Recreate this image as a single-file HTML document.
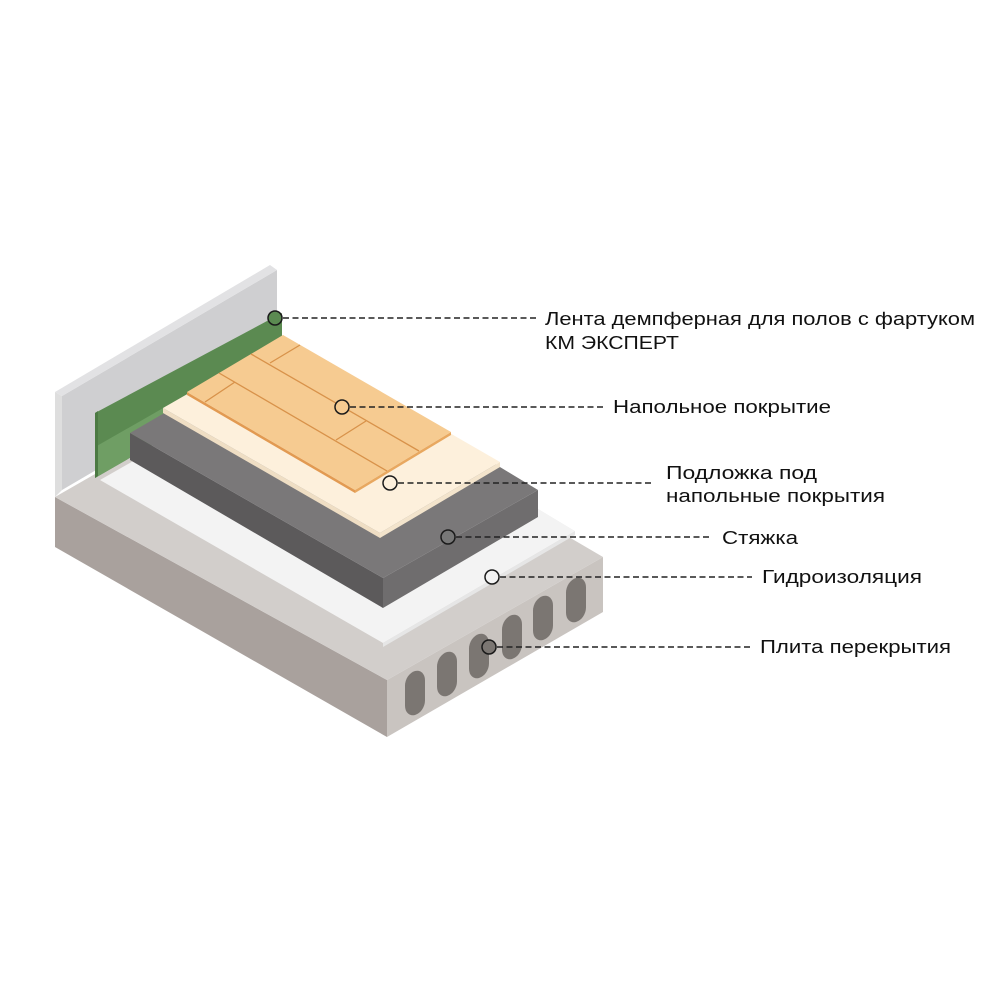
<!DOCTYPE html>
<html><head><meta charset="utf-8"><style>html,body{margin:0;padding:0;background:#fff}svg{display:block}text{font-family:"Liberation Sans",sans-serif;font-size:18px;fill:#111}</style></head>
<body>
<svg width="1000" height="1000" viewBox="0 0 1000 1000" xmlns="http://www.w3.org/2000/svg">
<rect width="1000" height="1000" fill="#fff"/>
<polygon points="55,497 387,680 387,737 55,547" fill="#a9a19d"/>
<polygon points="387,680 603,557 603,612 387,737" fill="#c9c4c0"/>
<polygon points="55,497 280,368 603,557 387,680" fill="#d2cecb"/>
<polygon points="55,392 62,396 62,490 55,497" fill="#dedede"/>
<polygon points="62,396 277,270 277,364 62,490" fill="#cfcfd1"/>
<polygon points="55,392 270,265 277,270 62,396" fill="#e2e2e4"/>
<polygon points="100,480 300,366 575,531 383,643" fill="#f3f3f3"/>
<polygon points="383,643 575,531 575,535 383,647" fill="#e6e6e6"/>
<polygon points="95,413 282,313 282,370 95,478" fill="#5b8a51"/>
<polygon points="95,447 282,340 282,370 95,478" fill="#6f9e64"/>
<polygon points="95,413 98,411 98,476 95,478" fill="#4c7a43"/>
<circle cx="275" cy="318" r="7" fill="#5b8a51" stroke="#1a1a1a" stroke-width="1.5"/>
<polygon points="130,433 383,578 383,608 130,460" fill="#5c5a5b"/>
<polygon points="383,578 538,490 538,517 383,608" fill="#6f6d6e"/>
<polygon points="130,433 290,340 538,490 383,578" fill="#7a7879"/>
<polygon points="163,408 380,533 380,538 163,413" fill="#efdec4"/>
<polygon points="380,533 500,462 500,467 380,538" fill="#f3e4cc"/>
<polygon points="163,408 285,338 500,462 380,533" fill="#fdf0dc"/>
<polygon points="187,392 355,490 355,493 187,395" fill="#e29a52"/>
<polygon points="355,490 451,432 451,435 355,493" fill="#e8a860"/>
<polygon points="187,392 283,335 451,432 355,490" fill="#f6cb91"/>
<g stroke="#d8924a" stroke-width="1.3">
<line x1="219" y1="373" x2="387" y2="471"/>
<line x1="251" y1="354" x2="419" y2="451"/>
<line x1="205" y1="402" x2="235" y2="382"/>
<line x1="270" y1="363" x2="300" y2="345"/>
<line x1="336" y1="440" x2="366" y2="421"/>
</g>
<g fill="#7b7672">
<rect x="-10" y="-22" width="20" height="44" rx="10" ry="12" transform="translate(415,693) skewY(-15)"/>
<rect x="-10" y="-22" width="20" height="44" rx="10" ry="12" transform="translate(447,674) skewY(-15)"/>
<rect x="-10" y="-22" width="20" height="44" rx="10" ry="12" transform="translate(479,656) skewY(-15)"/>
<rect x="-10" y="-22" width="20" height="44" rx="10" ry="12" transform="translate(512,637) skewY(-15)"/>
<rect x="-10" y="-22" width="20" height="44" rx="10" ry="12" transform="translate(543,618) skewY(-15)"/>
<rect x="-10" y="-22" width="20" height="44" rx="10" ry="12" transform="translate(576,600) skewY(-15)"/>
</g>
<g stroke="#222" stroke-width="1.4" stroke-dasharray="6,3.5" fill="none">
<line x1="283" y1="318" x2="537" y2="318"/>
<line x1="350" y1="407" x2="604" y2="407"/>
<line x1="398" y1="483" x2="652" y2="483"/>
<line x1="456" y1="537" x2="711" y2="537"/>
<line x1="500" y1="577" x2="752" y2="577"/>
<line x1="497" y1="647" x2="752" y2="647"/>
</g>
<g stroke="#1a1a1a" stroke-width="1.5">
<circle cx="342" cy="407" r="7" fill="#f6cb91"/>
<circle cx="390" cy="483" r="7" fill="#fdf0dc"/>
<circle cx="448" cy="537" r="7" fill="#777"/>
<circle cx="492" cy="577" r="7" fill="#f3f3f3"/>
<circle cx="489" cy="647" r="7" fill="#7b7672"/>
</g>
<text x="545" y="325" textLength="430" lengthAdjust="spacingAndGlyphs">Лента демпферная для полов с фартуком</text>
<text x="545" y="349" textLength="134" lengthAdjust="spacingAndGlyphs">КМ ЭКСПЕРТ</text>
<text x="613" y="413" textLength="218" lengthAdjust="spacingAndGlyphs">Напольное покрытие</text>
<text x="666" y="479" textLength="151" lengthAdjust="spacingAndGlyphs">Подложка под</text>
<text x="666" y="502" textLength="219" lengthAdjust="spacingAndGlyphs">напольные покрытия</text>
<text x="722" y="544" textLength="76" lengthAdjust="spacingAndGlyphs">Стяжка</text>
<text x="762" y="583" textLength="160" lengthAdjust="spacingAndGlyphs">Гидроизоляция</text>
<text x="760" y="653" textLength="191" lengthAdjust="spacingAndGlyphs">Плита перекрытия</text>
</svg>
</body></html>
